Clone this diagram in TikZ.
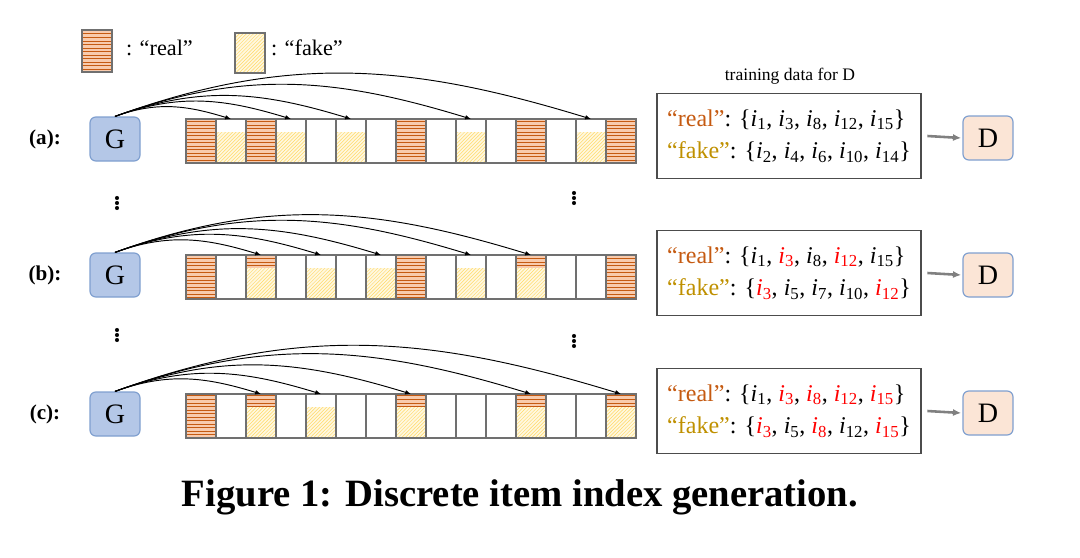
\documentclass[tikz,border=0pt]{standalone}
\usepackage{fontspec}
\setmainfont{Liberation Serif}
\usetikzlibrary{patterns,arrows.meta}
\definecolor{realc}{HTML}{C55A11}
\definecolor{realbg}{HTML}{F8CBAD}
\definecolor{fakec}{HTML}{FFD966}
\definecolor{fakebg}{HTML}{FFF8E0}
\definecolor{faket}{HTML}{BF9000}
\definecolor{gfill}{HTML}{B4C7E7}
\definecolor{gdraw}{HTML}{7F9FCF}
\definecolor{dfill}{HTML}{FBE5D6}
\definecolor{cellc}{HTML}{707070}
\tikzset{
 gbox/.style={draw=gdraw,fill=gfill,rounded corners=5pt,line width=1pt,minimum width=50*0.03cm,minimum height=44*0.03cm,font=\fontsize{24}{24}\selectfont,inner sep=0pt},
 dbox/.style={draw=gdraw,fill=dfill,rounded corners=5pt,line width=1pt,minimum width=50*0.03cm,minimum height=44*0.03cm,font=\fontsize{24}{24}\selectfont,inner sep=0pt},
 tbox/.style={draw=black!70,line width=0.9pt,minimum width=264*0.03cm,minimum height=85*0.03cm,align=left,font=\fontsize{20.5}{28}\selectfont,inner sep=2pt},
 lbl/.style={font=\bfseries\fontsize{18}{18}\selectfont},
 gen/.style={-{Latex[length=5pt,width=4pt]},line width=0.8pt,out=20,in=163},
 feed/.style={-{Latex[length=7pt,width=6pt]},line width=2.2pt,draw=gray},
 dotc/.style={fill=black,circle,inner sep=0pt,minimum size=3.5pt}
}
\newcommand\rl{\textcolor{realc}{“real”}}
\newcommand\fk{\textcolor{faket}{“fake”}}
\newcommand\ii[1]{\textit{i}\textsubscript{#1}}
\newcommand\rr[1]{\textcolor{red}{\ii{#1}}}
\newcommand\realpart[3]{\fill[realbg] (#1,-#2) rectangle ++(30,-#3);\fill[pattern=horizontal lines,pattern color=realc] (#1,-#2) rectangle ++(30,-#3);}
\newcommand\fakepart[3]{\fill[fakebg] (#1,-#2) rectangle ++(30,-#3);\fill[pattern=north east lines,pattern color=fakec] (#1,-#2) rectangle ++(30,-#3);}
\newcommand\cellrow[5]{%
 \pgfmathsetmacro\yy{#1+13}
 \foreach \i in {#2}{\pgfmathsetmacro\xx{186+30*(\i-1)}\realpart{\xx}{#1}{44}}
 \foreach \i in {#3}{\pgfmathsetmacro\xx{186+30*(\i-1)}\fakepart{\xx}{\yy}{31}}
 \foreach \i in {#4}{\pgfmathsetmacro\xx{186+30*(\i-1)}\realpart{\xx}{#1}{13}\fakepart{\xx}{\yy}{31}}
 \foreach \i in {1,...,15}{\pgfmathsetmacro\xx{186+30*(\i-1)}
   \draw[cellc,line width=1.1pt] (\xx,-#1) rectangle ++(30,-44);
   \coordinate (#5\i) at (\xx+15,-#1);}
}
\newcommand\vd[2]{\node[dotc] at (#1,#2+5) {};\node[dotc] at (#1,#2) {};\node[dotc] at (#1,#2-5) {};}
\begin{document}
\begin{tikzpicture}[x=0.03cm,y=0.03cm]
\useasboundingbox (0,0) rectangle (1080,-558);
% legend
\realpart{82}{30}{42}\draw[cellc,line width=0.9pt](82,-30) rectangle ++(30,-42);
\node[anchor=west,font=\fontsize{19}{19}\selectfont] (lr) at (122,-48) {: “real”};
\fakepart{235}{33}{40}\draw[cellc,line width=0.9pt](235,-33) rectangle ++(30,-40);
\node[anchor=west,font=\fontsize{19}{19}\selectfont] (lf) at (267,-48) {: “fake”};
\node[font=\fontsize{15}{15}\selectfont] (td) at (790,-76) {training data for D};
% rows
\cellrow{119}{1,3,8,12,15}{2,4,6,10,14}{}{a}
\cellrow{255}{1,8,15}{5,7,10}{3,12}{b}
\cellrow{394}{1}{5}{3,8,12,15}{c}
\node[gbox] (Ga) at (115,-139) {G};
\node[gbox] (Gb) at (115,-275) {G};
\node[gbox] (Gc) at (115,-414) {G};
\node[lbl] (la) at (45,-139) {(a):};
\node[lbl] (lb) at (45,-275) {(b):};
\node[lbl] (lc) at (45,-414) {(c):};
\foreach \t in {2,4,6,10,14}{\draw[gen] (Ga.north) to (a\t);}
\foreach \t in {3,5,7,10,12}{\draw[gen] (Gb.north) to (b\t);}
\foreach \t in {3,5,8,12,15}{\draw[gen] (Gc.north) to (c\t);}
% dots
\vd{117}{-203}
\vd{574}{-198}
\vd{117}{-335}
\vd{574}{-341}
% boxes
\node[tbox] (Ta) at (789,-136) {\rl: \{\ii{1}, \ii{3}, \ii{8}, \ii{12}, \ii{15}\}\\ \fk: \{\ii{2}, \ii{4}, \ii{6}, \ii{10}, \ii{14}\}};
\node[tbox] (Tb) at (789,-273) {\rl: \{\ii{1}, \rr{3}, \ii{8}, \rr{12}, \ii{15}\}\\ \fk: \{\rr{3}, \ii{5}, \ii{7}, \ii{10}, \rr{12}\}};
\node[tbox] (Tc) at (789,-411) {\rl: \{\ii{1}, \rr{3}, \rr{8}, \rr{12}, \rr{15}\}\\ \fk: \{\rr{3}, \ii{5}, \rr{8}, \ii{12}, \rr{15}\}};
\node[dbox] (Da) at (988,-138) {D};
\node[dbox] (Db) at (988,-275) {D};
\node[dbox] (Dc) at (988,-413) {D};
\draw[feed] ([xshift=5pt]Ta.east) -- ([xshift=-1pt]Da.west);
\draw[feed] ([xshift=5pt]Tb.east) -- ([xshift=-1pt]Db.west);
\draw[feed] ([xshift=5pt]Tc.east) -- ([xshift=-1pt]Dc.west);
\node[font=\bfseries\fontsize{33}{33}\selectfont] (cap) at (520,-497) {Figure 1: Discrete item index generation.};
\end{tikzpicture}
\end{document}
